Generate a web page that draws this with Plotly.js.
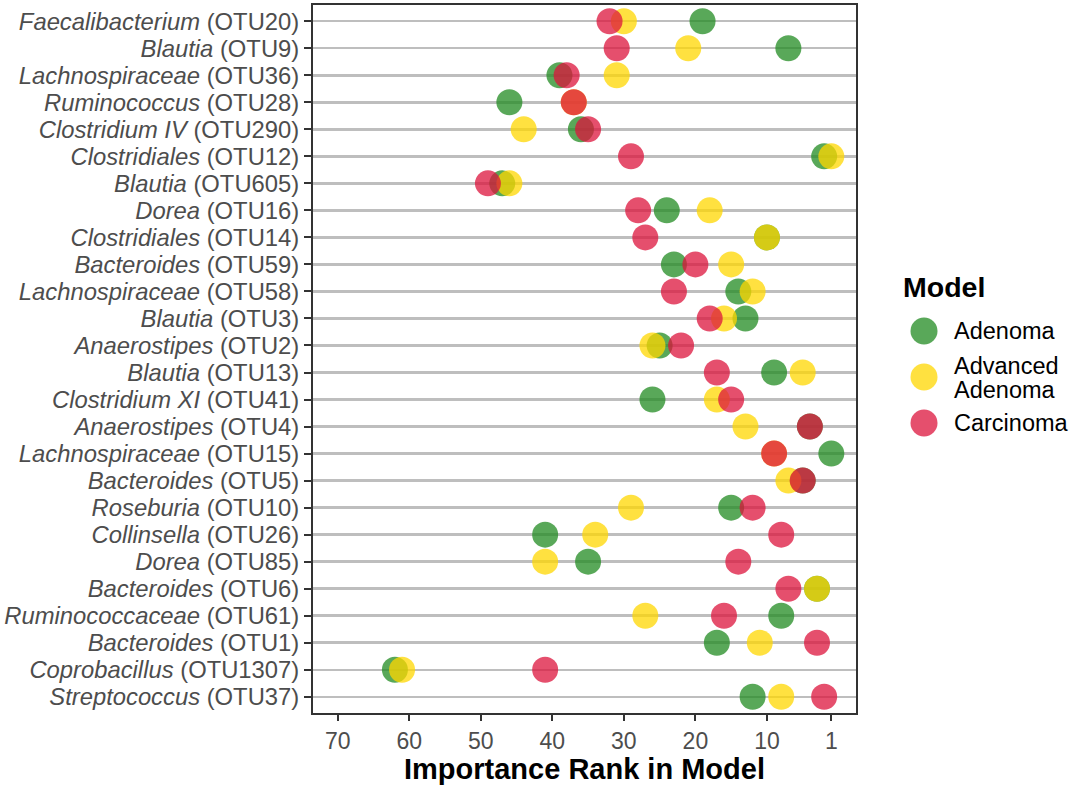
<!DOCTYPE html>
<html>
<head>
<meta charset="utf-8">
<script src="https://cdn.plot.ly/plotly-3.0.1.min.js"></script>
<style>
  html, body { margin: 0; padding: 0; background: #ffffff; }
  #chart { width: 1079px; height: 785px; }
</style>
</head>
<body>
<div id="chart"></div>
<script>
// ---- Data (top to bottom) ----
const genus = [
  "Faecalibacterium", "Blautia", "Lachnospiraceae", "Ruminococcus", "Clostridium IV",
  "Clostridiales", "Blautia", "Dorea", "Clostridiales", "Bacteroides",
  "Lachnospiraceae", "Blautia", "Anaerostipes", "Blautia", "Clostridium XI",
  "Anaerostipes", "Lachnospiraceae", "Bacteroides", "Roseburia", "Collinsella",
  "Dorea", "Bacteroides", "Ruminococcaceae", "Bacteroides", "Coprobacillus",
  "Streptococcus"
];
const otu = [
  "OTU20", "OTU9", "OTU36", "OTU28", "OTU290",
  "OTU12", "OTU605", "OTU16", "OTU14", "OTU59",
  "OTU58", "OTU3", "OTU2", "OTU13", "OTU41",
  "OTU4", "OTU15", "OTU5", "OTU10", "OTU26",
  "OTU85", "OTU6", "OTU61", "OTU1", "OTU1307",
  "OTU37"
];
const adenoma = [19, 7, 39, 46, 36, 2, 47, 24, 10, 23, 14, 13, 25, 9, 26, 4, 1, 5, 15, 41, 35, 3, 8, 17, 62, 12];
const advancedAdenoma = [30, 21, 31, 37, 44, 1, 46, 18, 10, 15, 12, 16, 26, 5, 17, 13, 9, 7, 29, 34, 41, 3, 27, 11, 61, 8];
const carcinoma = [32, 31, 38, 37, 35, 29, 49, 28, 27, 20, 23, 18, 22, 17, 15, 4, 9, 5, 12, 8, 14, 7, 16, 3, 41, 2];

const xTickVals = [70, 60, 50, 40, 30, 20, 10, 1];
const seriesNames = ["Adenoma", "Advanced Adenoma", "Carcinoma"];
const seriesColors = ["#228B22", "#FFD700", "#DC143C"];

// ---- Build ----
const keys = otu.map((o, i) => genus[i] + " " + o);
const tickText = otu.map((o, i) => "<i>" + genus[i] + "</i> (" + o + ")");
const seriesVals = [adenoma, advancedAdenoma, carcinoma];

const FONT = "Liberation Sans, Arial, Helvetica, sans-serif";
const W = 1079, H = 785;
const M = { l: 313, r: 223, t: 5, b: 72 };
const PW = W - M.l - M.r, PH = H - M.t - M.b;
const px = x => (x - M.l) / PW;
const py = y => (H - M.b - y) / PH;

const traces = seriesVals.map((vals, s) => ({
  type: "scatter",
  mode: "markers",
  name: seriesNames[s],
  x: vals,
  y: keys,
  marker: { size: 26, color: seriesColors[s], opacity: 0.75, line: { width: 0 } },
  hoverinfo: "skip",
  showlegend: false,
  cliponaxis: false
}));

// custom legend (big keys like ggplot)
const shapes = [];
const annotations = [];
annotations.push({
  xref: "paper", yref: "paper", x: px(901), y: py(287),
  xanchor: "left", yanchor: "middle", showarrow: false,
  text: "<b>Model</b>", font: { family: FONT, size: 28.5, color: "#000000" }
});
const legendY = [331, 377, 423];
seriesNames.forEach((n, i) => {
  shapes.push({
    type: "circle", xref: "paper", yref: "paper",
    xsizemode: "pixel", ysizemode: "pixel",
    xanchor: px(924), yanchor: py(legendY[i]),
    x0: -13.5, x1: 13.5, y0: -13.5, y1: 13.5,
    fillcolor: seriesColors[i], opacity: 0.75, line: { width: 0 }
  });
});
const legendLabels = [["Adenoma", 331], ["Advanced", 366], ["Adenoma", 390], ["Carcinoma", 423]];
legendLabels.forEach(([t, y]) => {
  annotations.push({
    xref: "paper", yref: "paper", x: px(952), y: py(y),
    xanchor: "left", yanchor: "middle", showarrow: false,
    text: t, font: { family: FONT, size: 23.5, color: "#000000" }
  });
});

const layout = {
  width: W, height: H,
  margin: M,
  paper_bgcolor: "#ffffff",
  plot_bgcolor: "#ffffff",
  font: { family: FONT, size: 23, color: "#4D4D4D" },
  showlegend: false,
  xaxis: {
    range: [73.45, -2.45],
    tickvals: xTickVals,
    ticktext: xTickVals.map(String),
    ticks: "outside", ticklen: 6, tickwidth: 2, tickcolor: "#333333",
    tickfont: { family: FONT, size: 23, color: "#4D4D4D" },
    showgrid: false, zeroline: false,
    showline: true, mirror: true, linecolor: "#333333", linewidth: 2,
    title: { text: "<b>Importance Rank in Model</b>", font: { family: FONT, size: 29, color: "#000000" }, standoff: 10 }
  },
  yaxis: {
    type: "category",
    categoryorder: "array",
    categoryarray: keys,
    range: [25.6, -0.6],
    tickvals: keys,
    ticktext: tickText,
    ticks: "outside", ticklen: 7, tickwidth: 2, tickcolor: "#333333",
    tickfont: { family: FONT, size: 23.8, color: "#4D4D4D" },
    showgrid: true, gridcolor: "#BEBEBE", gridwidth: 2.5,
    zeroline: false,
    showline: true, mirror: true, linecolor: "#333333", linewidth: 2
  },
  shapes: shapes,
  annotations: annotations
};

Plotly.newPlot("chart", traces, layout, { displayModeBar: false, staticPlot: true });
</script>
</body>
</html>
